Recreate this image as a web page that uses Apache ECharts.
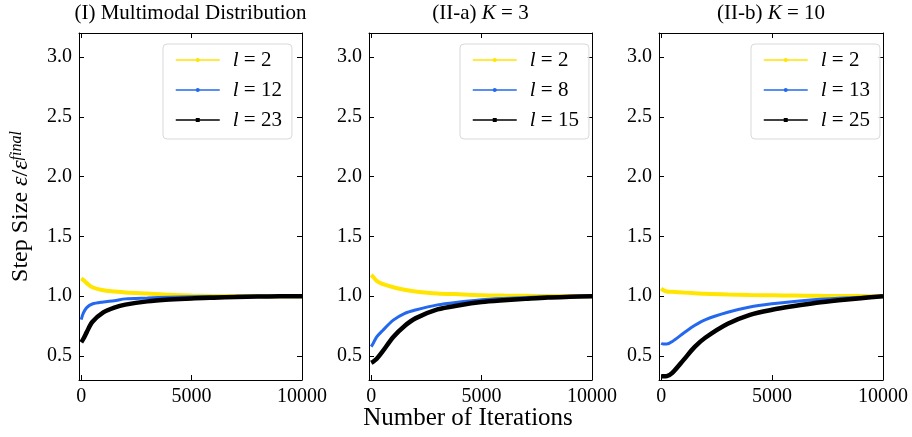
<!DOCTYPE html>
<html>
<head>
<meta charset="utf-8">
<script src="https://cdn.jsdelivr.net/npm/echarts@6/dist/echarts.min.js"></script>
<style>
html, body { margin: 0; padding: 0; background: #fff; }
#chart { width: 912px; height: 437px; }
</style>
</head>
<body>
<div id="chart"></div>
<script>
// iterations shared by every curve
const iters = [0, 100, 250, 500, 1000, 1500, 2000, 3000, 4000, 5000, 6000, 7000, 8000, 9000, 10000];

// (I) Multimodal Distribution
const multiL2  = [1.148, 1.135, 1.11, 1.075, 1.05, 1.04, 1.032, 1.022, 1.012, 1.006, 1.003, 1.002, 1.001, 1.0, 1.0];
const multiL12 = [0.805, 0.86, 0.905, 0.935, 0.952, 0.963, 0.978, 0.985, 0.992, 0.996, 0.998, 0.999, 1.0, 1.0, 1.0];
const multiL23 = [0.615, 0.645, 0.70, 0.785, 0.865, 0.905, 0.93, 0.957, 0.972, 0.982, 0.988, 0.993, 0.997, 0.999, 1.0];

// (II-a) K = 3
const k3L2  = [1.177, 1.16, 1.128, 1.103, 1.075, 1.055, 1.04, 1.022, 1.016, 1.009, 1.006, 1.004, 1.002, 1.001, 1.0];
const k3L8  = [0.579, 0.61, 0.66, 0.71, 0.80, 0.855, 0.885, 0.928, 0.952, 0.971, 0.982, 0.99, 0.995, 0.998, 1.0];
const k3L15 = [0.444, 0.455, 0.478, 0.535, 0.66, 0.75, 0.815, 0.89, 0.925, 0.951, 0.966, 0.978, 0.989, 0.995, 1.0];

// (II-b) K = 10
const k10L2  = [1.065, 1.05, 1.04, 1.037, 1.031, 1.026, 1.02, 1.014, 1.01, 1.008, 1.006, 1.004, 1.002, 1.001, 1.0];
const k10L13 = [0.607, 0.60, 0.60, 0.622, 0.69, 0.755, 0.805, 0.866, 0.91, 0.937, 0.957, 0.972, 0.983, 0.992, 1.0];
const k10L25 = [0.331, 0.331, 0.333, 0.36, 0.466, 0.575, 0.655, 0.77, 0.845, 0.887, 0.918, 0.945, 0.966, 0.984, 1.0];

const panelTitles = ['{n|(I) Multimodal Distribution}', '{n|(II-a) }{i|K}{n| = 3}', '{n|(II-b) }{i|K}{n| = 10}'];
const panelLayers = [[2, 12, 23], [2, 8, 15], [2, 13, 25]];
const panelData = [[multiL2, multiL12, multiL23], [k3L2, k3L8, k3L15], [k10L2, k10L13, k10L25]];
const xTicks = [0, 5000, 10000];
const yTicks = [0.5, 1.0, 1.5, 2.0, 2.5, 3.0];

const serif = 'Liberation Serif';
const lineColors = ['#ffe500', '#2468ee', '#000000'];
const lineWidths = [4, 3, 4.5];
const symbols = ['circle', 'circle', 'rect'];

const gridLeft = [79, 369, 659];
const gridWidth = [223, 223, 224];
const legendLeft = [163, 460, 751];

const chart = echarts.init(document.getElementById('chart'));

const grids = [], xAxes = [], yAxes = [], series = [], legends = [], titles = [];

const richText = {
  n: { fontFamily: serif, fontSize: 21, fontWeight: 'normal', color: '#000' },
  i: { fontFamily: serif, fontSize: 21, fontWeight: 'normal', fontStyle: 'italic', color: '#000' }
};

panelTitles.forEach((t, gi) => {
  grids.push({ left: gridLeft[gi], width: gridWidth[gi], top: 33, height: 347 });

  titles.push({
    text: t,
    left: gridLeft[gi] + gridWidth[gi] / 2,
    textAlign: 'center',
    top: 3,
    padding: 0,
    textStyle: { fontWeight: 'normal', rich: richText }
  });

  ['bottom', 'top'].forEach(pos => {
    xAxes.push({
      type: 'value', gridIndex: gi, position: pos, min: -100, max: 10000,
      axisLine: { onZero: false, lineStyle: { color: '#000', width: 1 } },
      axisTick: { inside: true, length: 5, customValues: xTicks, lineStyle: { color: '#000' } },
      axisLabel: {
        show: pos === 'bottom', customValues: xTicks, margin: 7,
        color: '#000', fontFamily: serif, fontSize: 20,
        formatter: v => String(v)
      },
      splitLine: { show: false }
    });
  });

  ['left', 'right'].forEach(pos => {
    const ax = {
      type: 'value', gridIndex: gi, position: pos, min: 0.3, max: 3.2,
      axisLine: { onZero: false, lineStyle: { color: '#000', width: 1 } },
      axisTick: { inside: true, length: 5, customValues: yTicks, lineStyle: { color: '#000' } },
      axisLabel: {
        show: pos === 'left', customValues: yTicks, margin: 7,
        color: '#000', fontFamily: serif, fontSize: 20,
        formatter: v => v.toFixed(1)
      },
      splitLine: { show: false }
    };
    if (gi === 0 && pos === 'left') {
      ax.name = '{n|Step Size }{e|ε}{n|/}{e|ε}{s|final}';
      ax.nameLocation = 'middle';
      ax.nameGap = 46;
      ax.nameTextStyle = {
        rich: {
          n: { fontFamily: serif, fontSize: 24, color: '#000' },
          e: { fontFamily: serif, fontSize: 24, fontStyle: 'italic', color: '#000' },
          s: { fontFamily: serif, fontSize: 16, fontStyle: 'italic', color: '#000', verticalAlign: 'top' }
        }
      };
    }
    yAxes.push(ax);
  });

  const names = panelLayers[gi].map(l => 'l=' + l);
  names.forEach((name, k) => {
    series.push({
      name, type: 'line',
      xAxisIndex: gi * 2, yAxisIndex: gi * 2,
      data: iters.map((x, j) => [x, panelData[gi][k][j]]),
      smooth: 0.3,
      symbol: symbols[k], symbolSize: 4, showSymbol: false,
      lineStyle: { color: lineColors[k], width: lineWidths[k] },
      itemStyle: { color: lineColors[k] },
      z: 2 + k
    });
  });

  legends.push({
    data: names,
    orient: 'vertical',
    left: legendLeft[gi], top: 44,
    padding: [5, 10, 8, 12],
    itemWidth: 44, itemHeight: 5, itemGap: 8,
    backgroundColor: 'rgba(255,255,255,0.85)',
    borderColor: '#d9d9d9', borderWidth: 1, borderRadius: 4,
    lineStyle: { width: 1.5 },
    selectedMode: false,
    formatter: name => '{i|l}{n| = ' + name.split('=')[1] + '}',
    textStyle: {
      lineHeight: 22,
      rich: {
        n: { fontFamily: serif, fontSize: 21, color: '#000', lineHeight: 22 },
        i: { fontFamily: serif, fontSize: 21, fontStyle: 'italic', color: '#000', lineHeight: 22, padding: [0, 0, 0, 8] }
      }
    }
  });
});

chart.setOption({
  animation: false,
  backgroundColor: '#fff',
  title: titles,
  grid: grids,
  xAxis: xAxes,
  yAxis: yAxes,
  legend: legends,
  series,
  graphic: [{
    type: 'text',
    x: 468, y: 418,
    style: {
      text: 'Number of Iterations',
      fontFamily: serif, fontSize: 25, fill: '#000',
      align: 'center', verticalAlign: 'middle'
    }
  }]
});
</script>
</body>
</html>
